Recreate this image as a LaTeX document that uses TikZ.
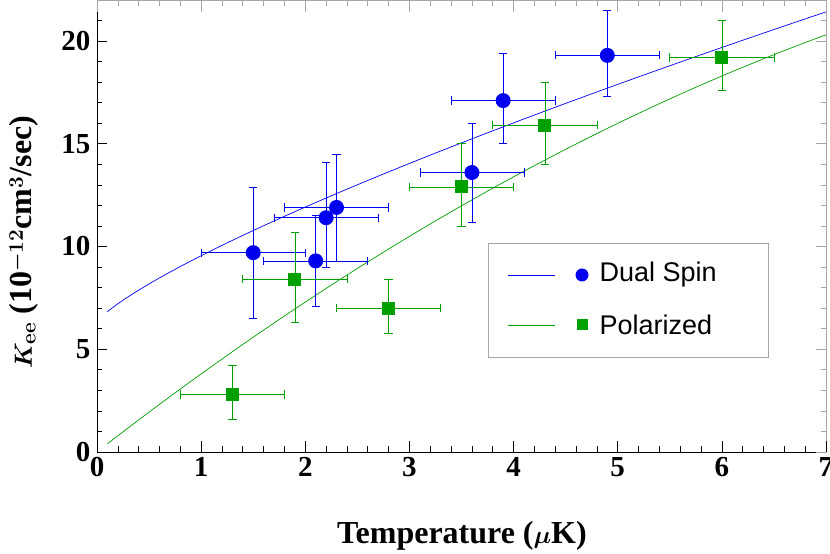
\documentclass[tikz,border=0pt]{standalone}
\usepackage{fontspec}
\setmainfont{Liberation Serif}
\newfontfamily\legfont{Liberation Sans}
\definecolor{pblue}{RGB}{0,0,240}
\definecolor{pgreen}{RGB}{0,160,0}
\begin{document}
\begin{tikzpicture}[x=1pt,y=1pt,
  tick/.style={line width=0.6pt},
  bluept/.style={circle,fill=pblue,inner sep=0pt,minimum size=15pt},
  greenpt/.style={rectangle,fill=pgreen,inner sep=0pt,minimum size=13pt},
  ticklab/.style={font=\bfseries\fontsize{29}{31}\selectfont},
  axlab/.style={font=\boldmath\bfseries\fontsize{32}{34}\selectfont},
  legtext/.style={anchor=west,font=\legfont\fontsize{27}{29}\selectfont}]
\useasboundingbox (0,0) rectangle (830,554);
\begin{scope}[shift={(97,102)},x=104.14pt,y=20.55pt]
 \draw[line width=0.6pt,gray!70] (0,0) rectangle (7,21.98);
 \draw[line width=0.8pt] (0,21.98) -- (0,0) -- (7,0);
 \foreach \i in {0,...,7}{
   \draw[tick] (\i,0) -- ++(0,0.55); \draw[tick,gray!70] (\i,21.98) -- ++(0,-0.55);
   \node[ticklab,below=2pt] at (\i,0) {\i};}
 \foreach \i in {1,...,34}{ \pgfmathsetmacro\xx{\i*0.2}
   \draw[tick] (\xx,0) -- ++(0,0.3); \draw[tick,gray!70] (\xx,21.98) -- ++(0,-0.3);}
 \foreach \j in {0,5,10,15,20}{
   \draw[tick] (0,\j) -- ++(0.1,0); \draw[tick,gray!70] (7,\j) -- ++(-0.1,0);
   \node[ticklab,left=3pt] at (0,\j) {\j};}
 \foreach \j in {1,...,21}{
   \draw[tick] (0,\j) -- ++(0.05,0); \draw[tick,gray!70] (7,\j) -- ++(-0.05,0);}
 \draw[pblue,line width=0.7pt] plot[domain=0.1:7,samples=80] (\x,{6.3+3.25*\x^0.79});
 \draw[pgreen,line width=0.7pt] plot[domain=0.1:7,samples=80] (\x,{0.007+3.942*\x-0.149*\x*\x});
 \foreach \px/\py/\xa/\xb/\ya/\yb/\c/\s in {
   1.5/9.7/1.0/2.0/6.5/12.9/pblue/bluept,
   2.1/9.3/1.6/2.6/7.1/11.5/pblue/bluept,
   2.2/11.4/1.7/2.7/9.0/14.1/pblue/bluept,
   2.3/11.9/1.8/2.8/9.3/14.5/pblue/bluept,
   3.6/13.6/3.1/4.1/11.2/16.0/pblue/bluept,
   3.9/17.1/3.4/4.4/15.0/19.4/pblue/bluept,
   4.9/19.3/4.4/5.4/17.3/21.5/pblue/bluept,
   1.3/2.8/0.8/1.8/1.6/4.2/pgreen/greenpt,
   1.9/8.4/1.4/2.4/6.3/10.7/pgreen/greenpt,
   2.8/7.0/2.3/3.3/5.8/8.4/pgreen/greenpt,
   3.5/12.9/3.0/4.0/11.0/15.0/pgreen/greenpt,
   4.3/15.9/3.8/4.8/14.0/18.0/pgreen/greenpt,
   6.0/19.2/5.5/6.5/17.6/21.0/pgreen/greenpt}{
   \draw[draw=\c,line width=0.6pt] (\xa,\py) -- (\xb,\py);
   \draw[draw=\c,line width=0.6pt] (\px,\ya) -- (\px,\yb);
   \draw[draw=\c,line width=0.6pt] (\xa,\py-0.2) -- (\xa,\py+0.2);
   \draw[draw=\c,line width=0.6pt] (\xb,\py-0.2) -- (\xb,\py+0.2);
   \draw[draw=\c,line width=0.6pt] (\px-0.04,\ya) -- (\px+0.04,\ya);
   \draw[draw=\c,line width=0.6pt] (\px-0.04,\yb) -- (\px+0.04,\yb);
   \node[\s] at (\px,\py) {};}
\end{scope}
\node[draw=gray!70,line width=0.6pt,fill=white,minimum width=280pt,minimum height=114pt,anchor=north west] (leg) at (488,311) {};
\draw[pblue,line width=0.7pt] (508,279) -- (555,279);
\node[circle,fill=pblue,inner sep=0pt,minimum size=13pt] (lb) at (582,279) {};
\node[legtext] (lbt) at (596,279) {Dual Spin};
\draw[pgreen,line width=0.7pt] (508,229) -- (555,229);
\node[rectangle,fill=pgreen,inner sep=0pt,minimum size=11pt] (lg) at (582,229) {};
\node[legtext] (lgt) at (596,229) {Polarized};
\node[axlab] (xl) at (462,18) {Temperature ($\mu$K)};
\node[axlab,rotate=90] (yl) at (24,312) {$K_{\mathbf{ee}}$ (10$^{\mathbf{-12}}$cm$^{\mathbf{3}}$/sec)};
\end{tikzpicture}
\end{document}
